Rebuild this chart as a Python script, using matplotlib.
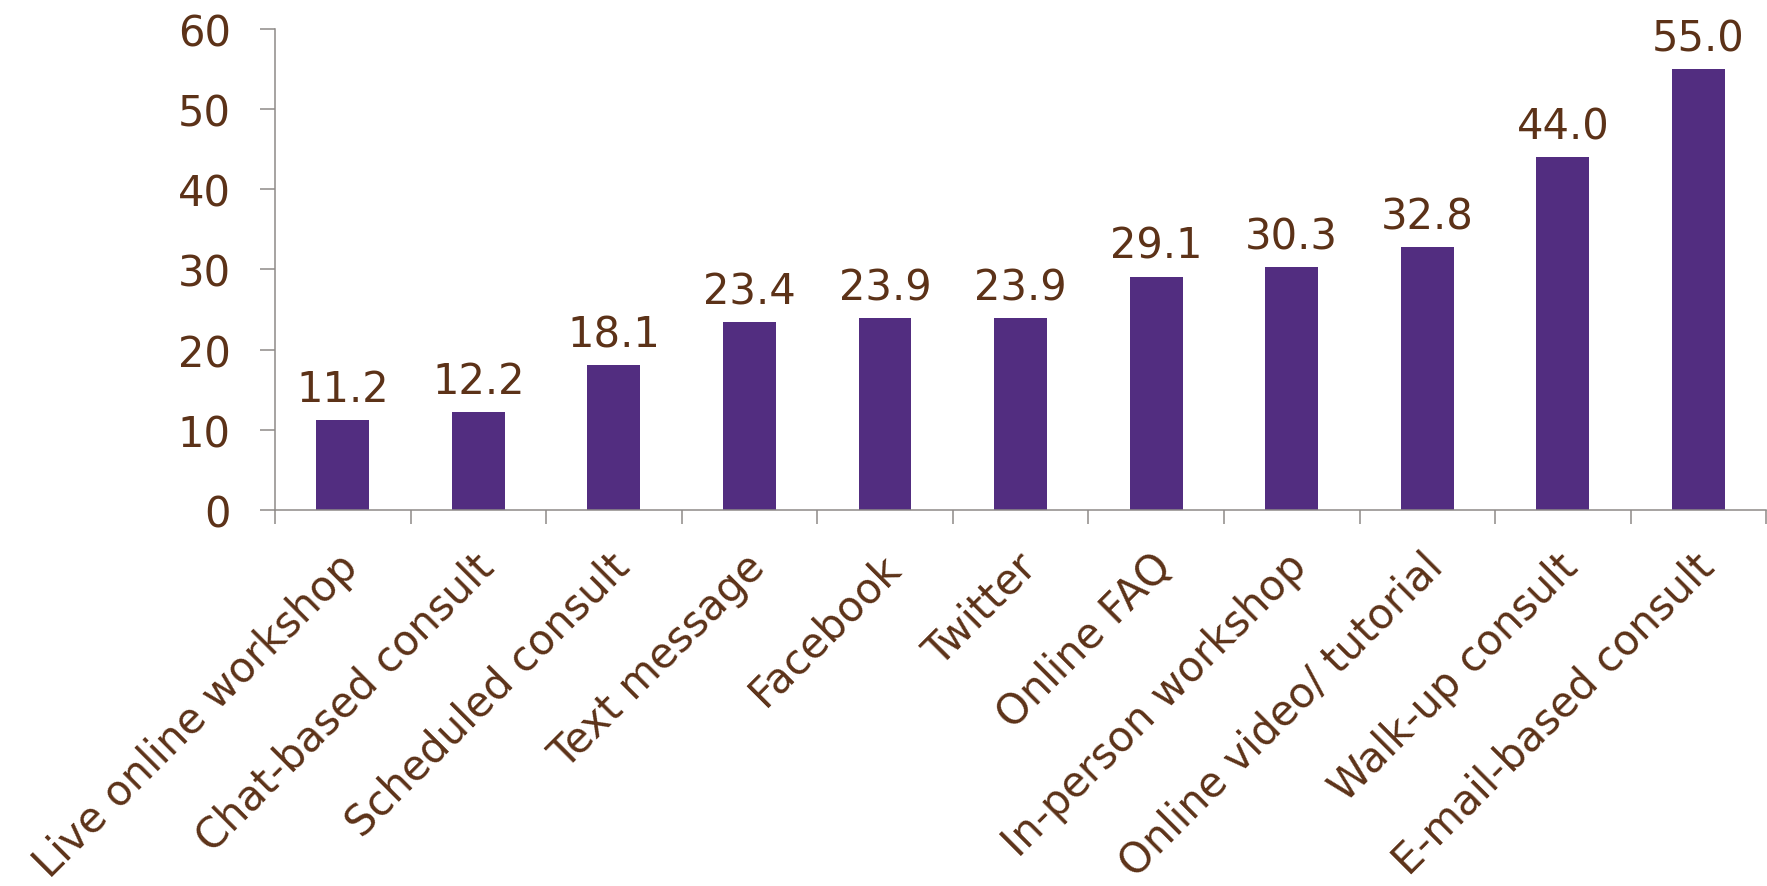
import numpy as np
import matplotlib.pyplot as plt
import matplotlib.transforms as mtransforms

categories = ['Live online workshop', 'Chat-based consult', 'Scheduled consult',
              'Text message', 'Facebook', 'Twitter', 'Online FAQ',
              'In-person workshop', 'Online video/ tutorial', 'Walk-up consult',
              'E-mail-based consult']
values = [11.2, 12.2, 18.1, 23.4, 23.9, 23.9, 29.1, 30.3, 32.8, 44.0, 55.0]
yticks = [0, 10, 20, 30, 40, 50, 60]

bar_color = '#522D80'
text_color = '#5C3218'
axis_color = '#8E8A88'

plt.rcParams['font.family'] = 'DejaVu Sans'

fig = plt.figure(figsize=(17.67, 8.87), dpi=100)
ax = fig.add_axes([0.1556, 0.4239, 0.844, 0.5423])

x = np.arange(len(categories))
ax.bar(x, values, 0.39, color=bar_color, zorder=2)

for xi, v in zip(x, values):
    ax.annotate(f'{v:.1f}', (xi, v), xytext=(0, 7), textcoords='offset points',
                ha='center', va='bottom', fontsize=30, color=text_color)

ax.set_xlim(-0.5, len(categories) - 0.5)
ax.set_ylim(0, 60)
ax.set_yticks(yticks)
ax.set_yticklabels([str(t) for t in yticks], fontsize=30, color=text_color)

ax.set_xticks(x)
ax.set_xticklabels(categories, fontsize=30, color=text_color,
                   rotation=45, ha='right', va='top', rotation_mode='anchor')
ax.set_xticks(np.arange(len(categories) + 1) - 0.5, minor=True)
ax.tick_params(axis='x', which='major', length=0, pad=25)
ax.tick_params(axis='x', which='minor', length=10, width=1.1, color=axis_color)
ax.tick_params(axis='y', length=10.8, width=1.1, color=axis_color, pad=21)

# shift the rotated labels a little left so their ends sit at the bar centres
offset = mtransforms.ScaledTranslation(-6 / 100, 0, fig.dpi_scale_trans)
for lab in ax.get_xticklabels():
    lab.set_transform(lab.get_transform() + offset)

for s in ['top', 'right']:
    ax.spines[s].set_visible(False)
for s in ['left', 'bottom']:
    ax.spines[s].set_color(axis_color)
    ax.spines[s].set_linewidth(1.1)

fig.savefig('out.png', dpi=100)
